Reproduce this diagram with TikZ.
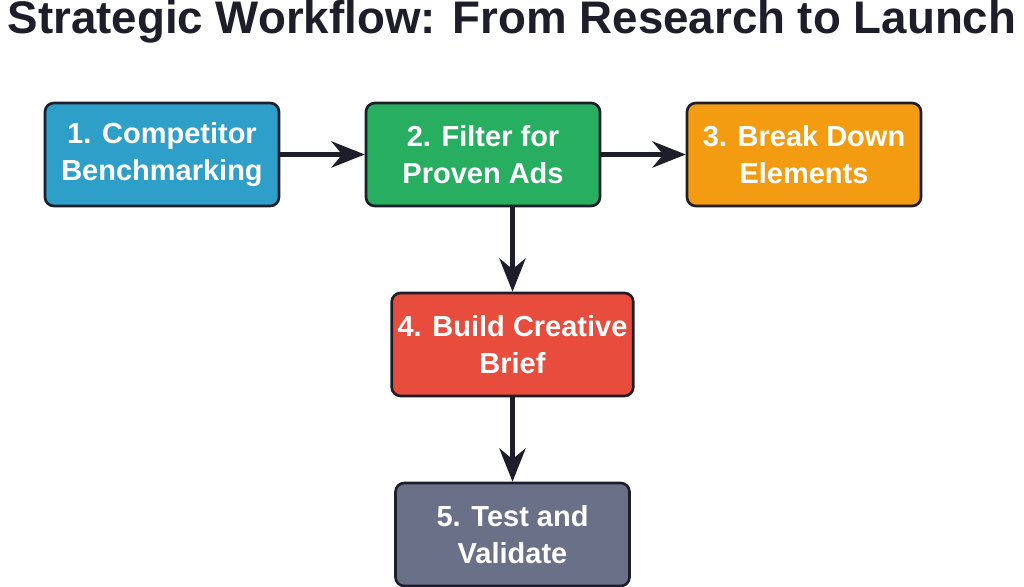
\documentclass[tikz,border=0pt]{standalone}
\usepackage{fontspec}
\setmainfont{Liberation Sans}
\usetikzlibrary{arrows.meta,positioning}
\definecolor{cblue}{HTML}{2E9FC9}
\definecolor{cgreen}{HTML}{27AE60}
\definecolor{corange}{HTML}{F39C12}
\definecolor{cred}{HTML}{E74C3C}
\definecolor{cslate}{HTML}{6B7089}
\definecolor{cdark}{HTML}{1E1E2A}

\begin{document}
\begin{tikzpicture}[x=0.02cm,y=-0.02cm,>={Stealth[length=19pt,width=15pt]},
  step node/.style={rectangle,rounded corners=5pt,draw=cdark,line width=1.5pt,
    minimum width=4.68cm,minimum height=2.06cm,align=center,text=white,
    font=\fontsize{16.5}{21}\selectfont\bfseries},
  flow/.style={->,line width=2.3pt,draw=cdark}]
  \useasboundingbox (0,0) rectangle (1024,587);
  \node[font=\fontsize{26}{30}\selectfont\bfseries,text=cdark] (title) at (512,22)
    {Strategic Workflow: From Research to Launch};
  \node[step node,fill=cblue] (1) at (162,154.5) {1. Competitor\\Benchmarking};
  \node[step node,fill=cgreen] (2) at (483,154.5) {2. Filter for\\Proven Ads};
  \node[step node,fill=corange] (3) at (804,154.5) {3. Break Down\\Elements};
  \node[step node,fill=cred] (4) at (512.5,344.5) {4. Build Creative\\Brief};
  \node[step node,fill=cslate] (5) at (512.5,534.5) {5. Test and\\Validate};

  \draw[flow] (1) -- (2);
  \draw[flow] (2) -- (3);
  \draw[flow] (2.south -| 4.north) -- (4);
  \draw[flow] (4) -- (5);
\end{tikzpicture}
\end{document}
